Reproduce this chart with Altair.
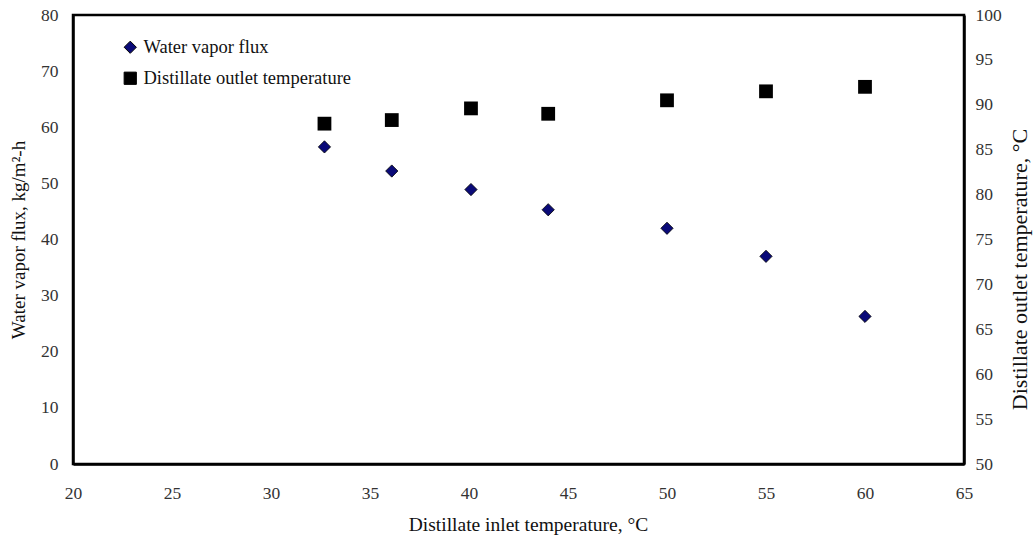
import altair as alt
import pandas as pd

inlet_temp = [32.7, 36.1, 40.1, 44.0, 50.0, 55.0, 60.0]
vapor_flux = [56.5, 52.2, 48.9, 45.3, 42.0, 37.0, 26.3]
outlet_temp = [87.9, 88.3, 89.6, 89.0, 90.5, 91.5, 92.0]

series_names = ["Water vapor flux", "Distillate outlet temperature"]

flux_df = pd.DataFrame({"x": inlet_temp, "y": vapor_flux, "series": series_names[0]})
out_df = pd.DataFrame({"x": inlet_temp, "y": outlet_temp, "series": series_names[1]})

FONT = "Liberation Serif"

color_scale = alt.Scale(domain=series_names, range=["#0a0a78", "#000000"])
shape_scale = alt.Scale(domain=series_names, range=["diamond", "square"])

legend = alt.Legend(
    title=None, orient="none", legendX=48, legendY=23,
    labelFont=FONT, labelFontSize=18.5, labelColor="#111", labelLimit=500,
    symbolSize=150, symbolStrokeWidth=1, rowPadding=12, labelOffset=4,
    symbolStrokeColor="black",
)

x_enc = alt.X("x:Q", scale=alt.Scale(domain=[20, 65], nice=False),
              axis=alt.Axis(title="Distillate inlet temperature, °C", values=list(range(20, 70, 5)),
                            ticks=False, grid=False, labelPadding=20, titlePadding=14, labelFlush=False,
                            titleFontSize=19.5, titleX=455,
                            domainWidth=2.5, domainColor="black"))

flux = alt.Chart(flux_df).mark_point(filled=True, size=150, stroke="black", strokeWidth=0.8, opacity=1).encode(
    x=x_enc,
    y=alt.Y("y:Q", scale=alt.Scale(domain=[0, 80], nice=False),
            axis=alt.Axis(title="Water vapor flux, kg/m²-h", values=list(range(0, 90, 10)),
                          ticks=False, grid=False, labelPadding=15, titlePadding=12, labelFlush=False,
                          domainWidth=2.5, domainColor="black")),
    color=alt.Color("series:N", scale=color_scale, legend=legend),
    shape=alt.Shape("series:N", scale=shape_scale, legend=legend),
)

outlet = alt.Chart(out_df).mark_point(filled=True, size=190, opacity=1).encode(
    x=x_enc,
    y=alt.Y("y:Q", scale=alt.Scale(domain=[50, 100], nice=False),
            axis=alt.Axis(title="Distillate outlet temperature, °C", orient="right",
                          values=list(range(50, 105, 5)), titleAngle=270, titleFontSize=22,
                          titleY=254,
                          ticks=False, grid=False, labelPadding=11, titlePadding=30, labelFlush=False,
                          domainWidth=2.5, domainColor="black")),
    color=alt.Color("series:N", scale=color_scale, legend=legend),
    shape=alt.Shape("series:N", scale=shape_scale, legend=legend),
)

chart = alt.layer(flux, outlet).resolve_scale(y="independent").properties(
    width=891, height=449,
    autosize=alt.AutoSizeParams(type="none"),
    padding={"left": 73, "top": 15, "right": 70, "bottom": 73},
    background="white",
).configure_view(stroke="black", strokeWidth=2.5).configure_axis(
    labelFont=FONT, labelFontSize=17.5, labelColor="#333",
    titleFont=FONT, titleFontSize=19, titleFontWeight="normal", titleColor="#111",
)

chart.save("out.html", embed_options={"renderer": "svg", "actions": False})
